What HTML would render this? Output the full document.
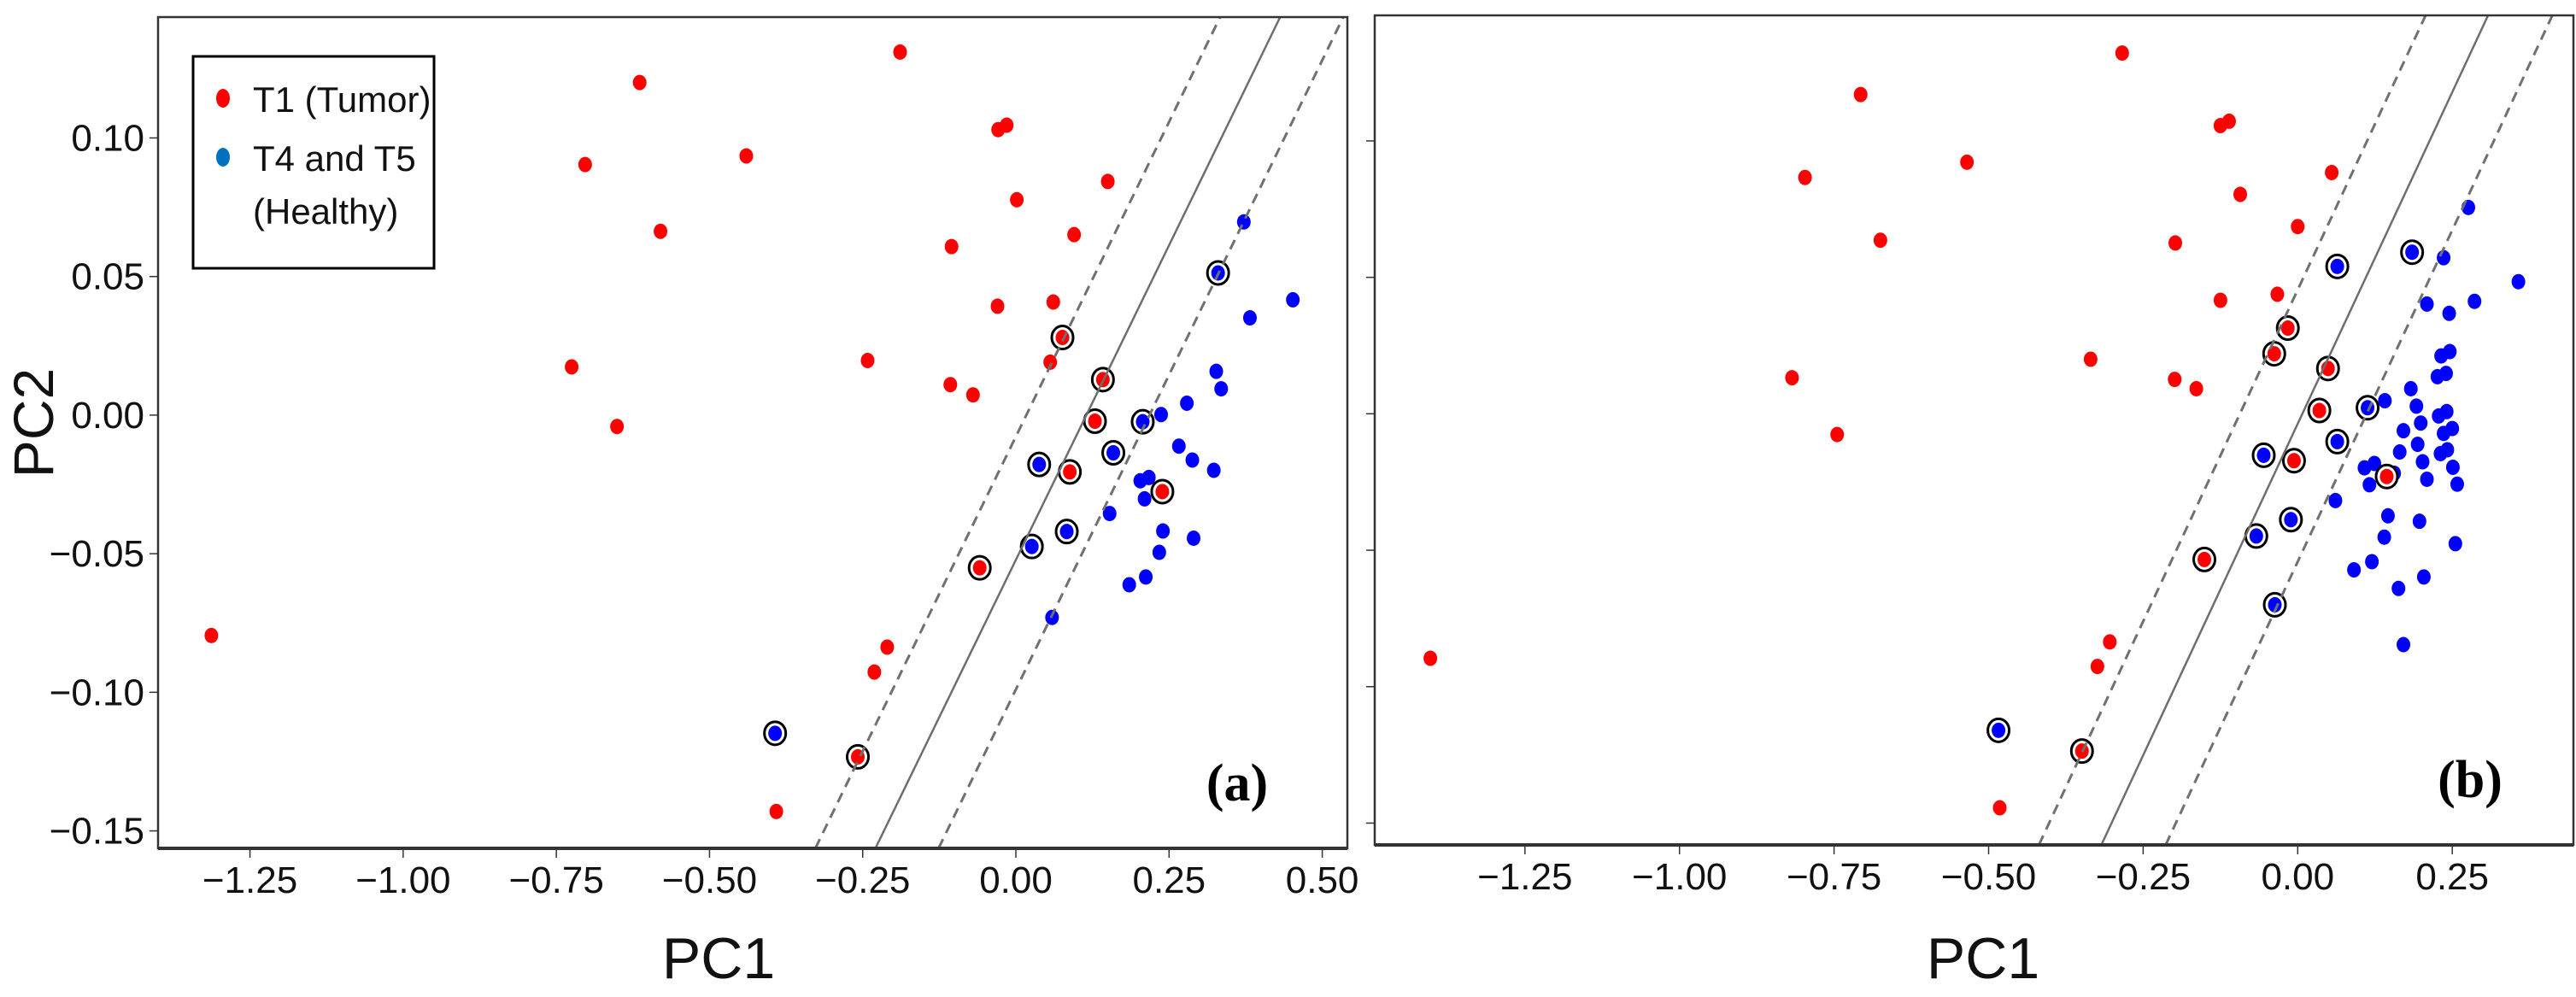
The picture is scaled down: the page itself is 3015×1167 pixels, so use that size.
<!DOCTYPE html>
<html><head><meta charset="utf-8"><style>
html,body{margin:0;padding:0;background:#fff;}
svg{display:block;}
text{font-family:"Liberation Sans",sans-serif;}
</style></head><body>
<svg id="fig" width="3015" height="1167" viewBox="0 0 3015 1167" xmlns="http://www.w3.org/2000/svg">
<g id="panelA"></g>
<g id="panelB"></g>
</svg>
<script>
// ---------- Panel (a) data ----------
const aRedX=[-1.313,-0.725,-0.703,-0.651,-0.614,-0.580,-0.440,-0.391,-0.242,-0.231,-0.210,-0.189,-0.107,-0.105,-0.070,-0.030,-0.029,-0.015,0.0015,0.056,0.061,0.095,0.150];
const aRedY=[-0.0795,0.0174,0.0904,-0.0041,0.120,0.0663,0.0935,-0.143,0.0197,-0.0927,-0.0837,0.131,0.011,0.0608,0.0073,0.0393,0.103,0.1046,0.0777,0.0191,0.0408,0.0651,0.0843];
const aBlueX=[0.372,0.382,0.452,0.327,0.335,0.279,0.237,0.266,0.288,0.323,0.203,0.217,0.210,0.153,0.240,0.290,0.234,0.212,0.185,0.059];
const aBlueY=[0.0697,0.0351,0.0416,0.0158,0.0095,0.0043,0.0002,-0.0112,-0.0162,-0.0199,-0.0237,-0.0225,-0.0302,-0.0355,-0.0418,-0.0444,-0.0495,-0.0584,-0.0612,-0.0730];
const aSvRedX=[-0.258,-0.059,0.076,0.142,0.129,0.088,0.239];
const aSvRedY=[-0.1233,-0.0551,0.028,0.0128,-0.0022,-0.0205,-0.0276];
const aSvBlueX=[-0.393,0.026,0.038,0.083,0.159,0.207,0.330];
const aSvBlueY=[-0.1148,-0.0474,-0.0178,-0.042,-0.0136,-0.0024,0.0513];
const aSlope=0.454;
const aIntercepts=[0.017,0.115,0.218]; // x where boundary/margins cross y=0
// ---------- Panel (b) data ----------
const bRedX=[-1.403,-0.818,-0.797,-0.745,-0.707,-0.675,-0.535,-0.482,-0.335,-0.324,-0.304,-0.284,-0.199,-0.198,-0.164,-0.125,-0.125,-0.111,-0.093,-0.033,0.000,0.055];
const bRedY=[-0.0896,0.0132,0.0866,-0.0076,0.117,0.0636,0.0922,-0.1444,0.0200,-0.0926,-0.0836,0.1322,0.0126,0.0626,0.0092,0.0416,0.1056,0.1072,0.0804,0.0438,0.0686,0.0884];
const bBlueX=[0.276,0.236,0.357,0.286,0.209,0.245,0.246,0.232,0.240,0.226,0.183,0.141,0.192,0.241,0.228,0.199,0.250,0.236,0.171,0.194,0.242,0.165,0.231,0.202,0.124,0.108,0.251,0.156,0.209,0.116,0.258,0.061,0.146,0.197,0.140,0.255,0.120,0.091,0.204,0.163,0.171];
const bBlueY=[0.0756,0.0572,0.0484,0.0412,0.0402,0.0368,0.0228,0.0212,0.0148,0.0136,0.0092,0.0048,0.0028,0.0008,-0.0008,-0.0034,-0.0054,-0.0072,-0.0062,-0.0112,-0.0132,-0.014,-0.0146,-0.0176,-0.0182,-0.0198,-0.0196,-0.0218,-0.024,-0.026,-0.0258,-0.0318,-0.0374,-0.0394,-0.0452,-0.0476,-0.0542,-0.0572,-0.0598,-0.064,-0.0846];
const bSvRedX=[-0.349,-0.151,-0.016,-0.038,0.049,0.035,-0.006,0.144];
const bSvRedY=[-0.1236,-0.0534,0.0314,0.022,0.0166,0.0012,-0.0172,-0.0230];
const bSvBlueX=[-0.484,-0.055,-0.067,-0.011,-0.037,0.064,0.113,0.064,0.185];
const bSvBlueY=[-0.116,-0.0152,-0.0448,-0.0388,-0.070,-0.0102,0.0022,0.054,0.0592];
const bSlope=0.486;
const bIntercepts=[-0.0935,0.0075,0.1115];
// ---------- Ticks ----------
const xTicksA=[-1.25,-1.00,-0.75,-0.50,-0.25,0.00,0.25,0.50];
const xTicksB=[-1.25,-1.00,-0.75,-0.50,-0.25,0.00,0.25];
const yTicks=[0.10,0.05,0.00,-0.05,-0.10,-0.15];

const NS="http://www.w3.org/2000/svg";
function mk(parent,tag,attrs){const e=document.createElementNS(NS,tag);for(const k in attrs)e.setAttribute(k,attrs[k]);parent.appendChild(e);return e;}
function fmt(v){const s=Math.abs(v).toFixed(2);return (v<0?"\u2212":"")+s;}

function drawPanel(g,cfg){
  const {L,R,T,B,x0,x1,y0,y1}=cfg;
  const sx=v=>L+(v-x0)/(x1-x0)*(R-L);
  const sy=v=>B-(v-y0)/(y1-y0)*(B-T);
  const clipId="clip"+cfg.id;
  const defs=mk(g,"defs",{});
  const cp=mk(defs,"clipPath",{id:clipId});
  mk(cp,"rect",{x:L,y:T,width:R-L,height:B-T});
  // ticks
  cfg.xt.forEach(v=>{
    const x=sx(v);
    const t=mk(g,"line",{x1:x,y1:B,x2:x,y2:B+11,stroke:"#333","stroke-width":1.5});
    
    
    const lb=mk(g,"text",{x:x,y:B+52,"font-size":44,"text-anchor":"middle",fill:"#111"});
    lb.textContent=fmt(v);
    
    
  });
  yTicks.forEach(v=>{
    const y=sy(v);
    const t=mk(g,"line",{x1:L-10,y1:y,x2:L,y2:y,stroke:"#333","stroke-width":1.5});
    
    
    if(cfg.yLabels){
      const lb=mk(g,"text",{x:L-16,y:y+15,"font-size":44,"text-anchor":"end",fill:"#111"});
      lb.textContent=fmt(v);
      
      
    }
  });
  const pts=mk(g,"g",{"clip-path":"url(#"+clipId+")"});
  
  
  function dots(X,Y,col,sv,name){
    X.forEach((xv,i)=>{
      const cx=sx(xv),cy=sy(Y[i]);
      if(sv){
        const r=mk(pts,"ellipse",{cx:cx,cy:cy,rx:12.5,ry:13.5,fill:"#fff",stroke:"#000","stroke-width":3});
        
        
      }
      const d=mk(pts,"ellipse",{cx:cx,cy:cy,rx:8,ry:9,fill:col});
      
      
    });
  }
  dots(cfg.rx,cfg.ry,"#ff0000",false,"tumor-point");
  dots(cfg.bx,cfg.by,"#0000ff",false,"healthy-point");
  dots(cfg.srx,cfg.sry,"#ff0000",true,"tumor-support-vector");
  dots(cfg.sbx,cfg.sby,"#0000ff",true,"healthy-support-vector");
  // boundary lines
  cfg.ints.forEach((c,i)=>{
    const xa=c+y0/cfg.slope, xb=c+y1/cfg.slope;
    const ln=mk(pts,"line",{x1:sx(xa),y1:sy(y0),x2:sx(xb),y2:sy(y1),stroke:i===1?"#6e6e6e":"#707070","stroke-width":i===1?2.5:3});
    if(i!==1)ln.setAttribute("stroke-dasharray","12 8");
    
    
  });
  // frame
  const fr=mk(g,"rect",{x:L,y:T,width:R-L,height:B-T,fill:"none",stroke:"#333","stroke-width":2.5});
  
  
  const bl=mk(g,"line",{x1:L,y1:B,x2:R,y2:B,stroke:"#333","stroke-width":4});
  
  
  // panel label
  const pl=mk(g,"text",{x:cfg.lblX,y:B-56,"font-size":62,"font-weight":"bold","text-anchor":"middle",fill:"#000",style:"font-family:'Liberation Serif',serif"});
  pl.textContent=cfg.lbl;
  
  
  // x title
  const xt=mk(g,"text",{x:cfg.xTitleX,y:1145,"font-size":68,"text-anchor":"middle",fill:"#111"});
  xt.textContent="PC1";
  
  
}

drawPanel(document.getElementById("panelA"),{id:"A",L:185,R:1577,T:20,B:993,x0:-1.400,x1:0.541,y0:-0.1563,y1:0.1436,
  xt:xTicksA,yLabels:true,rx:aRedX,ry:aRedY,bx:aBlueX,by:aBlueY,srx:aSvRedX,sry:aSvRedY,sbx:aSvBlueX,sby:aSvBlueY,
  slope:aSlope,ints:aIntercepts,lbl:"(a)",lblX:1448,xTitleX:841});
drawPanel(document.getElementById("panelB"),{id:"B",L:1609,R:3012,T:18,B:989,x0:-1.493,x1:0.446,y0:-0.158,y1:0.146,
  xt:xTicksB,yLabels:false,rx:bRedX,ry:bRedY,bx:bBlueX,by:bBlueY,srx:bSvRedX,sry:bSvRedY,sbx:bSvBlueX,sby:bSvBlueY,
  slope:bSlope,ints:bIntercepts,lbl:"(b)",lblX:2891,xTitleX:2321});

// y title and legend
const svg=document.getElementById("fig");
const yt=mk(svg,"text",{x:0,y:0,"font-size":66,"text-anchor":"middle",fill:"#111",transform:"translate(62,495) rotate(-90)"});
yt.textContent="PC2";


const lg=mk(svg,"g",{});


const lbox=mk(lg,"rect",{x:226,y:66,width:282,height:248,fill:"#fff",stroke:"#000","stroke-width":3});


const m1=mk(lg,"ellipse",{cx:261,cy:115,rx:8,ry:11,fill:"#ff0000"});


const m2=mk(lg,"ellipse",{cx:261,cy:184,rx:8,ry:11,fill:"#0070c0"});


const t1=mk(lg,"text",{x:296,y:131,"font-size":42,fill:"#111"});
t1.textContent="T1 (Tumor)";


const t2=mk(lg,"text",{x:296,y:200,"font-size":42,fill:"#111"});
t2.textContent="T4 and T5";


const t3=mk(lg,"text",{x:296,y:262,"font-size":42,fill:"#111"});
t3.textContent="(Healthy)";


</script>
</body></html>
